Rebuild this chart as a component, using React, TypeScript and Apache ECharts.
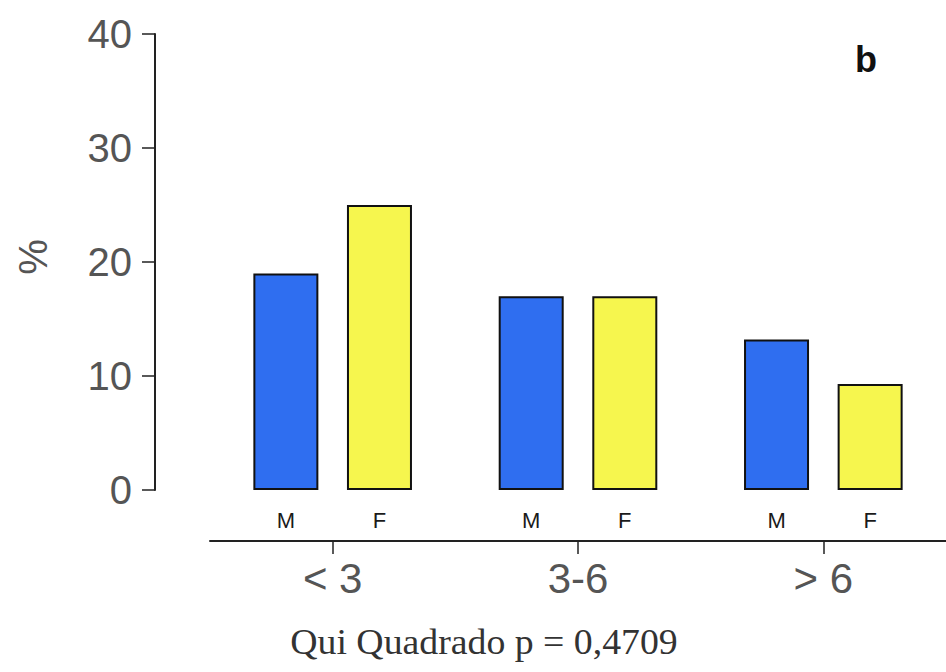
import React, { useEffect, useRef } from "react";
import * as echarts from "echarts";

// Age groups (years) and the share of each sex in them (%)
const ageGroups = ["< 3", "3-6", "> 6"];
const male = [19, 17, 13.2];
const female = [25, 17, 9.3];
const yTicks = { min: 0, max: 40, step: 10 };
const panelLetter = "b";
const footnote = "Qui Quadrado p = 0,4709";

export default function App() {
  const ref = useRef<HTMLDivElement>(null);

  useEffect(() => {
    if (!ref.current) return;
    const chart = echarts.init(ref.current, null, { renderer: "svg" });
    const sans = "Liberation Sans, Arial, sans-serif";
    const barLabel = (txt: string) => ({
      show: true,
      position: "bottom" as const,
      distance: 19,
      formatter: txt,
      color: "#1a1a1a",
      fontSize: 22,
      fontFamily: sans,
    });
    chart.setOption({
      animation: false,
      backgroundColor: "#ffffff",
      grid: { left: 210, top: 34, width: 741, height: 456 },
      xAxis: {
        type: "category",
        data: ageGroups,
        position: "bottom",
        offset: 51,
        axisLine: { show: true, onZero: false, lineStyle: { color: "#222", width: 2 } },
        axisTick: { show: true, alignWithLabel: true, length: 13, lineStyle: { color: "#222", width: 1.5 } },
        axisLabel: { color: "#555", fontSize: 42, fontFamily: sans, margin: 16 },
      },
      yAxis: {
        type: "value",
        min: yTicks.min,
        max: yTicks.max,
        interval: yTicks.step,
        offset: 55,
        axisLine: { show: true, onZero: false, lineStyle: { color: "#222", width: 2 } },
        axisTick: { show: true, length: 13, lineStyle: { color: "#222", width: 1.5 } },
        axisLabel: { color: "#555", fontSize: 40, fontFamily: sans, margin: 23 },
        splitLine: { show: false },
      },
      series: [
        {
          name: "M",
          type: "bar",
          data: male,
          barWidth: 65,
          barGap: "44%",
          itemStyle: { color: "#2f6ef0", borderColor: "#111", borderWidth: 2 },
          label: barLabel("M"),
        },
        {
          name: "F",
          type: "bar",
          data: female,
          barWidth: 65,
          itemStyle: { color: "#f6f64e", borderColor: "#111", borderWidth: 2 },
          label: barLabel("F"),
        },
      ],
      graphic: [
        {
          type: "text",
          x: 33,
          y: 257,
          rotation: Math.PI / 2,
          style: {
            text: "%",
            fontSize: 40,
            fontFamily: sans,
            fill: "#555",
            align: "center",
            verticalAlign: "middle",
          },
        },
        {
          type: "text",
          x: 866,
          y: 59,
          style: {
            text: panelLetter,
            fontSize: 36,
            fontWeight: "bold",
            fontFamily: sans,
            fill: "#111",
            align: "center",
            verticalAlign: "middle",
          },
        },
        {
          type: "text",
          x: 484,
          y: 642,
          scaleX: 1.08,
          style: {
            text: footnote,
            fontSize: 35,
            fontFamily: "Liberation Serif, Times New Roman, serif",
            fill: "#333",
            align: "center",
            verticalAlign: "middle",
          },
        },
      ],
    });
    return () => chart.dispose();
  }, []);

  return (
    <div
      ref={ref}
      style={{ position: "fixed", left: 0, top: 0, width: 946, height: 672 }}
    />
  );
}
